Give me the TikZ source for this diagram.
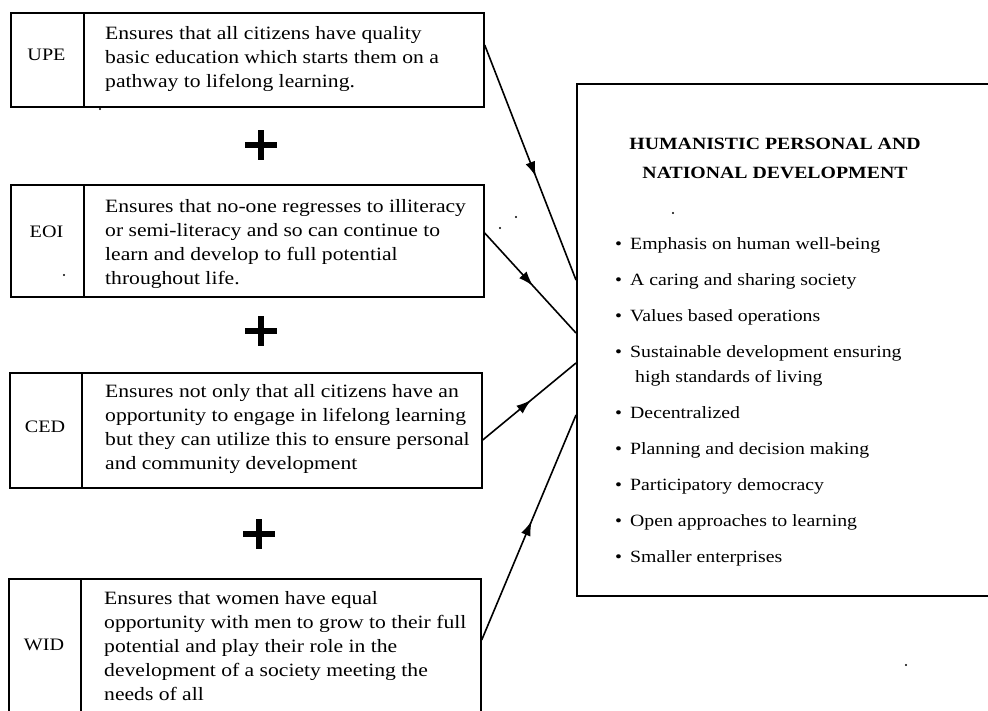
\documentclass[tikz,border=0pt]{standalone}
\usepackage{fontspec}
\setmainfont{Liberation Serif}[FakeStretch=1.15]
\usetikzlibrary{arrows.meta,decorations.markings,calc}

\tikzset{
  cell/.style={draw, line width=1.7pt, inner sep=0pt, anchor=north west},
  tag/.style={font=\fontsize{17.5}{22}\selectfont, inner sep=0pt},
  body/.style={font=\fontsize{18.8}{24}\selectfont, align=left, anchor=west, inner sep=0pt},
  plusbar/.style={line width=6pt},
  feed/.style={line width=1.6pt, postaction={decorate},
    decoration={markings, mark=at position #1 with {\arrow{Latex[length=15pt,width=10pt]}}}},
  feed/.default=0.5,
  speck/.style={fill=black, draw=none, circle, inner sep=0pt, minimum size=2.2pt}
}
\newcommand\itm{\makebox[15pt][l]{•}}

\begin{document}
\begin{tikzpicture}[x=1pt, y=-1pt]
\useasboundingbox (0,0) rectangle (988,710);

% ---- left column: label cell + description cell ----
\node[cell, minimum width=73pt, minimum height=94pt]  (upeL) at (10,12) {};
\node[cell, minimum width=400pt, minimum height=94pt] (upeB) at (83,12) {};
\node[tag]  (upeTag) at (46.5,55) {UPE};
\node[body] (upeTxt) at (105,59) {Ensures that all citizens have quality\\
basic education which starts them on a\\pathway to lifelong learning.};

\node[cell, minimum width=73pt, minimum height=112pt]  (eoiL) at (10,184) {};
\node[cell, minimum width=400pt, minimum height=112pt] (eoiB) at (83,184) {};
\node[tag]  (eoiTag) at (46.5,232) {EOI};
\node[body] (eoiTxt) at (105,244) {Ensures that no-one regresses to illiteracy\\
or semi-literacy and so can continue to\\learn and develop to full potential\\throughout life.};

\node[cell, minimum width=72pt, minimum height=115pt]  (cedL) at (9,372) {};
\node[cell, minimum width=400pt, minimum height=115pt] (cedB) at (81,372) {};
\node[tag]  (cedTag) at (45,427) {CED};
\node[body] (cedTxt) at (105,429) {Ensures not only that all citizens have an\\
opportunity to engage in lifelong learning\\but they can utilize this to ensure personal\\and community development};

\node[cell, minimum width=72pt, minimum height=140pt]  (widL) at (8,578) {};
\node[cell, minimum width=400pt, minimum height=140pt] (widB) at (80,578) {};
\node[tag]  (widTag) at (44,645) {WID};
\node[body] (widTxt) at (104,646) {Ensures that women have equal\\
opportunity with men to grow to their full\\potential and play their role in the\\development of a society meeting the\\needs of all};

% ---- plus signs between the rows ----
\foreach \px/\py in {261/145, 261/331, 259/534}{
  \draw[plusbar] (\px-16,\py) -- (\px+16,\py);
  \draw[plusbar] (\px,\py-15) -- (\px,\py+15);
}

% ---- right-hand outcome box ----
\node[cell, minimum width=420pt, minimum height=512pt] (dev) at (576,83) {};
\node[font=\bfseries\fontsize{17.2}{29}\selectfont, align=center, inner sep=0pt]
  (devHead) at (775,158) {HUMANISTIC PERSONAL AND\\NATIONAL DEVELOPMENT};
\node[font=\fontsize{17.2}{25}\selectfont, align=left, anchor=west, inner sep=0pt]
  (devList) at (615,402) {%
\itm Emphasis on human well-being\\[11pt]
\itm A caring and sharing society\\[11pt]
\itm Values based operations\\[11pt]
\itm Sustainable development ensuring\\
\hspace*{20pt}high standards of living\\[11pt]
\itm Decentralized\\[11pt]
\itm Planning and decision making\\[11pt]
\itm Participatory democracy\\[11pt]
\itm Open approaches to learning\\[11pt]
\itm Smaller enterprises};

% ---- connectors: each row feeds the outcome box ----
\coordinate (upeOut) at ($(upeB.north east)+(0,33)$);
\coordinate (eoiOut) at ($(eoiB.north east)+(0,49)$);
\coordinate (cedOut) at ($(cedB.north east)+(0,68)$);
\coordinate (widOut) at ($(widB.north east)+(0,62)$);
\coordinate (upeIn) at ($(dev.north west)+(0,197)$);
\coordinate (eoiIn) at ($(dev.north west)+(0,250)$);
\coordinate (cedIn) at ($(dev.north west)+(0,280)$);
\coordinate (widIn) at ($(dev.north west)+(0,332)$);
\draw[feed=0.56] (upeOut) -- (upeIn);
\draw[feed=0.53] (eoiOut) -- (eoiIn);
\draw[feed=0.52] (cedOut) -- (cedIn);
\draw[feed=0.53] (widOut) -- (widIn);

% ---- stray print specks ----
\node[speck] (s1) at (100,109) {};
\node[speck] (s2) at (64,275) {};
\node[speck] (s3) at (500,228) {};
\node[speck] (s4) at (516,217) {};
\node[speck] (s5) at (673,213) {};
\node[speck] (s6) at (906,665) {};
\end{tikzpicture}
\end{document}
